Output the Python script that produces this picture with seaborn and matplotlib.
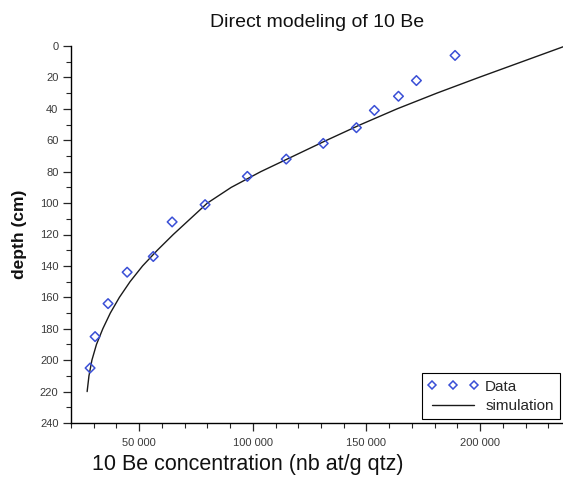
import matplotlib
matplotlib.use("Agg")
import matplotlib.pyplot as plt
from matplotlib.lines import Line2D
from matplotlib.ticker import MultipleLocator
import seaborn as sns
import pandas as pd

# Measured data
data_conc = [189000, 172000, 164100, 153500, 145600, 131000, 114700, 97600,
             79000, 64500, 56200, 44700, 36300, 30600, 28400]
data_depth = [6, 22, 32, 41, 52, 62, 72, 83, 101, 112, 134, 144, 164, 185, 205]

# Simulation curve
sim_conc = [237500, 218500, 199500, 181000, 163500, 147500, 132500, 118000,
            103500, 90500, 80000, 72500, 65000, 58000, 51500, 46000, 41300,
            37300, 34000, 31200, 29200, 27900, 27100]
sim_depth = [0, 10, 20, 30, 40, 50, 60, 70, 80, 90, 100, 110, 120, 130, 140,
             150, 160, 170, 180, 190, 200, 210, 220]

xticks = [50000, 100000, 150000, 200000]
xtick_labels = ["50 000", "100 000", "150 000", "200 000"]
yticks = [0, 20, 40, 60, 80, 100, 120, 140, 160, 180, 200, 220, 240]

sns.set_style("ticks")
plt.rcParams['font.family'] = ['Liberation Sans', 'DejaVu Sans']

fig = plt.figure(figsize=(5.63, 4.79), dpi=100)
ax = fig.add_axes([71/563, 1-423/479, 492/563, 377/479])

sim_df = pd.DataFrame({"conc": sim_conc, "depth": sim_depth})
dat_df = pd.DataFrame({"conc": data_conc, "depth": data_depth})

blue = "#3a4fd6"
line_col = "#1a1a1a"
sns.lineplot(data=sim_df, x="conc", y="depth", sort=False, ax=ax,
             color=line_col, linewidth=1.0, estimator=None)
sns.scatterplot(data=dat_df, x="conc", y="depth", ax=ax, marker="D",
                s=24, facecolor="none", edgecolor=blue, linewidth=1.1, zorder=3)

ax.set_xlim(20000, 236500)
ax.set_ylim(240, 0)
ax.set_xticks(xticks, xtick_labels)
ax.set_yticks(yticks)
ax.xaxis.set_minor_locator(MultipleLocator(10000))
ax.yaxis.set_minor_locator(MultipleLocator(10))
ax.tick_params(which="major", length=6, width=0.9, labelsize=8, labelcolor="#3a3a3a",
               direction="out")
ax.tick_params(axis="y", which="major", pad=3)
ax.tick_params(axis="x", which="major", pad=5)
ax.tick_params(which="minor", length=3.5, width=0.8, direction="out")
for s in ["top", "right"]:
    ax.spines[s].set_visible(False)
for s in ["left", "bottom"]:
    ax.spines[s].set_linewidth(1.0)
    ax.spines[s].set_color("black")

ax.set_title("Direct modeling of 10 Be", fontsize=14, pad=14, color="#111111")
ax.set_xlabel("10 Be concentration (nb at/g qtz)", fontsize=15.5, color="#111111")
ax.set_ylabel("depth (cm)", fontsize=12.5, fontweight="bold", color="#111111")
ax.xaxis.set_label_coords(0.36, -0.083)
ax.yaxis.set_label_coords(-0.09, 0.5)

handles = [Line2D([], [], marker="D", linestyle="none", markerfacecolor="none",
                  markeredgecolor=blue, markersize=4, markeredgewidth=1.1),
           Line2D([], [], color=line_col, linewidth=1.0)]
leg = ax.legend(handles, ["Data", "simulation"], numpoints=3, loc="lower left",
                bbox_to_anchor=((421.7-71)/492, 4/377), borderaxespad=0,
                fontsize=11, frameon=True, fancybox=False, handlelength=3.3,
                borderpad=0.4, labelspacing=0.35, handletextpad=0.45)
leg.get_frame().set_edgecolor("black")
leg.get_frame().set_linewidth(0.8)
leg.get_frame().set_alpha(1)

fig.savefig("out.png", dpi=100)
